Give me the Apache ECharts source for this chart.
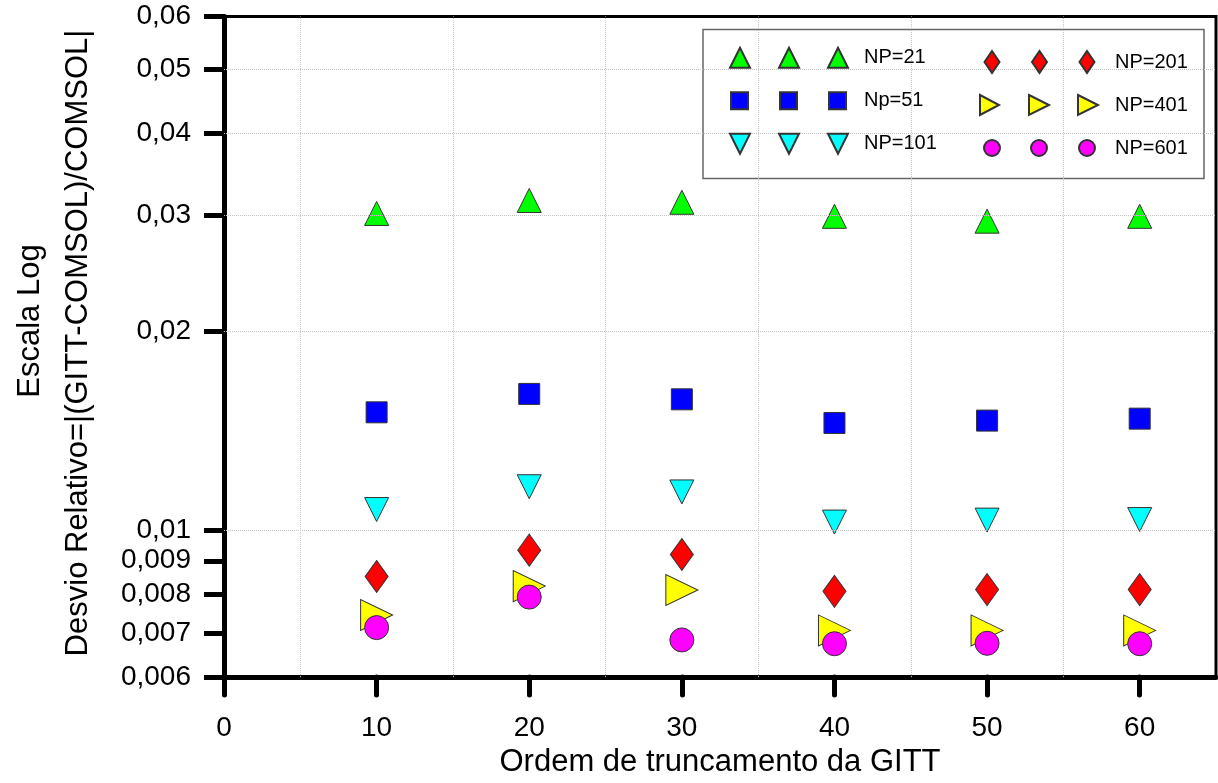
<!DOCTYPE html>
<html><head><meta charset="utf-8">
<script src="https://cdn.jsdelivr.net/npm/echarts@6/dist/echarts.min.js"></script>
<style>html,body{margin:0;padding:0;background:#fff}#c{width:1218px;height:783px}</style>
</head><body><div id="c"></div>
<script>
// ---- data ----
const orders = [10, 20, 30, 40, 50, 60];
const np21  = [0.0302, 0.0316, 0.0314, 0.0299, 0.0294, 0.0299];
const np51  = [0.0151, 0.0161, 0.0158, 0.01455, 0.01467, 0.01477];
const np101 = [0.01076, 0.01165, 0.01144, 0.0103, 0.01037, 0.01039];
const np201 = [0.00852, 0.00934, 0.0092, 0.00809, 0.00814, 0.00814];
const np401 = [0.00745, 0.00824, 0.00813, 0.00706, 0.00706, 0.00706];
const np601 = [0.00713, 0.00793, 0.00683, 0.00674, 0.00675, 0.00674];
const seriesNames = ['NP=21', 'Np=51', 'NP=101', 'NP=201', 'NP=401', 'NP=601'];
const xTicks = [0, 10, 20, 30, 40, 50, 60];
const yTicks = [0.006, 0.007, 0.008, 0.009, 0.01, 0.02, 0.03, 0.04, 0.05, 0.06];
const xGrid = [5, 15, 25, 35, 45, 55];
const yGrid = [0.007, 0.008, 0.009, 0.01, 0.02, 0.03, 0.04, 0.05];

const FONT = '"Liberation Sans", Arial, sans-serif';
const chart = echarts.init(document.getElementById('c'), null, {renderer: 'canvas'});

function sc(name, vals, symbol, size, color, rotate) {
  return {
    type: 'scatter', name: name,
    data: orders.map((x, i) => [x, vals[i]]),
    symbol: symbol, symbolSize: size, symbolRotate: rotate || 0,
    itemStyle: {color: color, borderColor: '#333', borderWidth: 1, opacity: 1},
    z: 3, animation: false, emphasis: {disabled: true}
  };
}

// legend icon paths (anchored so bbox = 118x22)
const A = 'M0,0 L0,0 M118,22 L118,22 ';
const icTriUp = 'path://' + A + 'M0,21 L10,1 L20,21 Z M49,21 L59,1 L69,21 Z M98,21 L108,1 L118,21 Z';
const icSquare = 'path://' + A + 'M1,2.5 L18,2.5 L18,19.5 L1,19.5 Z M50,2.5 L67,2.5 L67,19.5 L50,19.5 Z M99,2.5 L116,2.5 L116,19.5 L99,19.5 Z';
const icTriDown = 'path://' + A + 'M0,1 L20,1 L10,21 Z M49,1 L69,1 L59,21 Z M98,1 L118,1 L108,21 Z';
const icDiamond = 'path://' + A + 'M12,0 L19.5,11 L12,22 L4.5,11 Z M59.5,0 L67,11 L59.5,22 L52,11 Z M107,0 L114.5,11 L107,22 L99.5,11 Z';
const icTriRight = 'path://' + A + 'M0,1 L19,11 L0,21 Z M49,1 L69,11 L49,21 Z M98,1 L118,11 L98,21 Z';
const icCircle = 'path://' + A + 'M4,11 A8,8 0 1,0 20,11 A8,8 0 1,0 4,11 Z M51,11 A8,8 0 1,0 67,11 A8,8 0 1,0 51,11 Z M99,11 A8,8 0 1,0 115,11 A8,8 0 1,0 99,11 Z';

const legendBase = {
  orient: 'vertical', padding: 0, itemWidth: 118, itemHeight: 22, itemGap: 19,
  selectedMode: false, symbolKeepAspect: true, z: 6,
  textStyle: {fontSize: 20, fontFamily: FONT, color: '#000', lineHeight: 22}
};

const gridSeries = {
  type: 'scatter', name: '_grid', data: [], z: 1, silent: true, animation: false,
  markLine: {
    silent: true, symbol: ['none', 'none'], animation: false,
    label: {show: false},
    lineStyle: {color: '#c4c4c4', type: 'dotted', width: 1},
    emphasis: {disabled: true},
    data: xGrid.map(v => ({xAxis: v})).concat(yGrid.map(v => ({yAxis: v})))
  }
};

const option = {
  backgroundColor: '#fff',
  animation: false,
  grid: {left: 224, top: 16.5, right: 2, bottom: 100.5, show: true, borderColor: '#000', borderWidth: 3, backgroundColor: 'transparent'},
  xAxis: {
    type: 'value', min: 0, max: 65, interval: 10,
    name: 'Ordem de truncamento da GITT', nameLocation: 'middle', nameGap: 69,
    nameTextStyle: {fontSize: 31, fontFamily: FONT, color: '#000'},
    axisLine: {show: true, onZero: false, lineStyle: {color: '#000', width: 5}},
    axisTick: {show: true, inside: false, length: 18, customValues: xTicks, lineStyle: {color: '#000', width: 5, cap: 'round'}},
    axisLabel: {customValues: xTicks, fontSize: 28, fontFamily: FONT, color: '#000', margin: 37},
    splitLine: {show: false}
  },
  yAxis: {
    type: 'log', logBase: 10, min: 0.006, max: 0.06,
    axisLine: {show: true, onZero: false, lineStyle: {color: '#000', width: 5}},
    axisTick: {show: true, inside: false, length: 20, customValues: yTicks, lineStyle: {color: '#000', width: 5}},
    axisLabel: {customValues: yTicks, fontSize: 28, fontFamily: FONT, color: '#000', margin: 33,
      formatter: v => String(+(+v).toPrecision(6)).replace('.', ',')},
    splitLine: {show: false}, minorTick: {show: false}, minorSplitLine: {show: false}
  },
  legend: [
    Object.assign({}, legendBase, {left: 729, top: 45.7,
      textStyle: Object.assign({}, legendBase.textStyle, {padding: [0, 0, 0, 11]}),
      data: [{name: 'NP=21', icon: icTriUp}, {name: 'Np=51', icon: icSquare}, {name: 'NP=101', icon: icTriDown}]}),
    Object.assign({}, legendBase, {left: 979, top: 50,
      textStyle: Object.assign({}, legendBase.textStyle, {padding: [0, 0, 0, 12]}),
      data: [{name: 'NP=201', icon: icDiamond}, {name: 'NP=401', icon: icTriRight}, {name: 'NP=601', icon: icCircle}]})
  ],
  graphic: [
    {type: 'rect', z: 4, silent: true, shape: {x: 703, y: 29.5, width: 501, height: 149},
      style: {fill: '#fff', stroke: '#666', lineWidth: 1.5}},
    {type: 'text', z: 5, x: 30, y: 321, rotation: Math.PI / 2, silent: true,
      style: {text: 'Escala Log', font: '31px ' + FONT, fill: '#000', align: 'center', verticalAlign: 'middle'}},
    {type: 'text', z: 5, x: 78, y: 343, rotation: Math.PI / 2, silent: true,
      style: {text: 'Desvio Relativo=|(GITT-COMSOL)/COMSOL|', font: '31px ' + FONT, fill: '#000', align: 'center', verticalAlign: 'middle'}}
  ],
  series: [
    gridSeries,
    sc(seriesNames[0], np21, 'triangle', [24, 24], '#00ff00', 0),
    sc(seriesNames[1], np51, 'rect', [21, 21], '#0000ff', 0),
    sc(seriesNames[2], np101, 'triangle', [24, 24], '#00ffff', 180),
    sc(seriesNames[3], np201, 'diamond', [23, 32], '#ff0000', 0),
    sc(seriesNames[4], np401, 'triangle', [31, 32], '#ffff00', -90),
    sc(seriesNames[5], np601, 'circle', [24, 24], '#ff00ff', 0)
  ]
};
chart.setOption(option);
</script>
</body></html>
